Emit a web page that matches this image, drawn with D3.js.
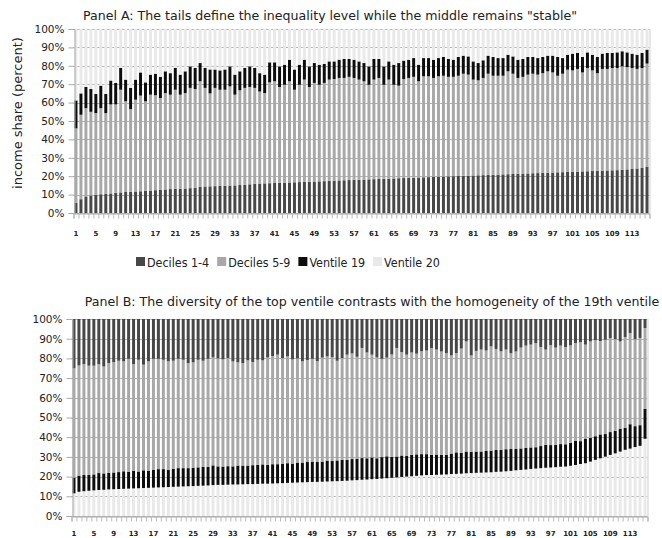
<!DOCTYPE html>
<html>
<head>
<meta charset="utf-8">
<script src="https://cdn.jsdelivr.net/npm/d3@7/dist/d3.min.js"></script>
<style>
body { margin: 0; background: #fff; }
text { font-family: "DejaVu Sans", sans-serif; fill: #222; }
</style>
</head>
<body>
<script>
// bar ids (countries sorted), one per bar
var groups = d3.range(1, 117);
var tickLabels = ["1","5","9","13","17","21","25","29","33","37","41","45","49","53","57",
  "61","65","69","73","77","81","85","89","93","97","101","105","109","113"];
var yTicks = [0,10,20,30,40,50,60,70,80,90,100];

// Panel A shares (percent), ventile 20 is what is left up to 100
var d14A = [5.5,7.5,9.0,9.5,10.0,10.2,10.4,10.6,11.0,11.2, 11.4,11.5,11.7,11.8,12.0,12.2,12.4,12.6,12.8,13.0,
  13.1,13.2,13.3,13.5,13.7,14.2,14.4,14.5,14.6,14.7, 14.8,14.9,15.0,15.2,15.4,15.6,15.8,16.0,16.1,16.2,
  16.3,16.4,16.5,16.6,16.7,16.8,16.9,17.0,17.1,17.2, 17.3,17.5,17.6,17.7,17.8,17.9,18.0,18.1,18.2,18.3,
  18.4,18.5,18.6,18.7,18.8,18.9,19.0,19.1,19.2,19.3, 19.4,19.5,19.6,19.7,19.8,19.9,20.0,20.1,20.2,20.3,
  20.4,20.5,20.6,20.7,20.8,20.9,21.0,21.1,21.2,21.3, 21.4,21.5,21.6,21.7,21.8,21.9,22.0,22.1,22.2,22.3,
  22.4,22.5,22.6,22.7,22.8,22.9,23.0,23.1,23.2,23.3, 23.5,23.7,23.9,24.2,24.5,25.2];
var d59A = [40.5,45.9,48.0,45.5,44.3,46.8,43.9,48.4,48.0,55.8, 49.3,45.0,49.9,52.0,48.7,52.1,51.6,49.9,52.4,51.3,
  53.9,51.1,51.9,54.5,53.7,57.4,53.6,50.5,53.4,52.3, 52.2,53.9,49.3,51.5,52.6,52.9,52.2,50.0,49.1,54.8,
  55.3,52.1,53.2,55.0,50.3,52.9,55.6,51.5,53.6,52.5, 53.4,55.0,55.2,55.7,55.6,56.1,55.4,54.4,53.4,51.4,
  54.1,54.9,51.1,53.8,50.9,50.3,53.8,54.3,54.8,52.3, 54.9,54.8,53.8,54.6,54.8,54.1,54.0,54.5,55.5,54.9,
  52.1,51.6,52.8,55.0,53.8,53.7,53.6,55.9,54.5,52.1, 52.6,53.7,54.1,53.5,54.2,55.1,54.4,52.5,53.5,55.6,
  55.1,55.8,53.8,56.1,54.7,53.1,55.3,55.2,55.6,55.5, 56.2,55.6,54.9,54.1,54.3,56.0];
var v19A = [15.2,11.6,11.5,12.4,10.4,12.2,10.4,13.0,11.7,11.8, 11.8,11.5,10.9,12.6,10.3,10.9,11.7,11.5,11.8,11.7,
  11.8,10.9,11.8,11.7,11.4,9.9,10.8,13.0,10.0,10.5, 11.0,10.9,10.9,10.3,10.8,11.2,10.8,10.0,10.0,10.9,
  10.3,11.2,10.9,11.7,11.0,10.9,10.8,11.2,10.8,10.9, 10.3,9.9,9.6,9.9,10.3,9.7,9.9,9.9,9.9,10.0,
  11.2,10.3,10.0,9.9,10.9,12.3,10.0,9.9,10.2,9.0, 9.9,9.9,9.9,9.9,10.2,9.7,9.3,10.2,9.8,9.9,
  9.9,9.4,9.6,9.8,10.2,9.6,9.6,9.0,9.4,9.9, 9.7,9.6,9.1,9.0,8.8,8.5,9.1,10.2,8.5,8.1,
  9.1,8.7,8.4,8.5,8.5,8.8,8.3,8.7,8.2,8.5, 8.2,8.0,7.8,7.7,8.2,7.6];

// Panel B shares (percent), deciles 5-9 is what is left up to 100
var v20B = [11.5,12.3,12.6,12.8,13.0,13.2,13.3,13.5,13.6,13.7, 13.8,13.9,14.0,14.1,14.2,14.3,14.4,14.5,14.6,14.7,
  14.8,14.9,15.0,15.1,15.2,15.3,15.4,15.5,15.7,15.8, 15.8,15.9,16.0,16.0,16.1,16.2,16.2,16.3,16.4,16.4,
  16.5,16.6,16.7,16.8,16.9,17.0,17.1,17.2,17.3,17.3, 17.4,17.5,17.6,17.7,17.8,17.9,18.1,18.2,18.4,18.5,
  18.7,18.8,19.0,19.2,19.4,19.6,19.8,20.0,20.2,20.4, 20.6,20.8,20.8,20.9,21.0,21.1,21.3,21.4,21.5,21.7,
  21.8,21.9,22.0,22.1,22.2,22.4,22.5,22.7,22.9,23.2, 23.4,23.6,23.9,24.1,24.3,24.5,24.6,24.8,25.0,25.1,
  25.5,25.9,26.4,26.8,27.6,28.5,29.3,30.1,31.0,31.8, 32.7,33.6,34.2,35.0,35.6,39.2];
var v19B = [8.0,8.2,8.2,8.0,8.1,8.6,8.3,8.4,8.5,8.6, 8.9,8.6,9.0,8.5,9.0,8.6,9.0,9.3,9.2,8.8,
  9.1,9.4,9.3,9.2,9.3,9.4,9.5,9.4,10.0,9.4, 9.3,9.4,9.2,9.6,9.5,9.4,9.6,9.7,9.8,9.6,
  9.8,9.7,9.9,10.0,9.7,10.1,10.0,10.2,10.3,10.1, 10.2,10.6,10.3,10.5,10.7,10.6,10.8,10.9,11.0,10.8,
  11.0,10.5,10.9,11.1,10.6,10.6,10.9,10.6,10.8,10.9, 10.8,10.6,10.2,10.3,10.1,10.0,10.4,10.9,10.5,11.0,
  10.8,10.8,10.7,10.9,11.0,11.2,11.1,11.2,11.1,11.0, 10.9,11.0,10.9,10.8,11.2,11.6,11.4,11.3,11.5,11.3,
  11.6,12.2,11.6,12.5,12.0,12.0,12.1,11.5,11.6,11.4, 11.5,11.2,12.4,10.6,10.5,15.2];
var d14B = [25.0,23.6,22.9,23.7,23.7,22.9,24.1,22.4,21.9,21.2, 21.5,20.2,22.9,20.7,23.2,21.5,20.2,20.2,20.7,21.5,
  21.2,20.2,20.7,22.4,22.0,20.7,21.2,20.2,19.5,20.0, 20.5,19.8,21.5,22.0,22.4,21.0,21.8,20.7,21.0,19.5,
  18.8,18.1,19.8,19.0,20.5,20.0,21.5,20.8,20.2,21.4, 19.6,19.0,19.4,21.2,19.8,18.1,17.5,19.2,14.7,17.0,
  18.1,19.5,20.2,19.6,18.0,14.7,16.8,18.1,17.0,17.6, 16.4,16.0,14.7,15.5,16.5,17.3,18.5,17.3,15.0,11.4,
  18.5,16.2,15.5,16.0,13.9,15.2,16.4,15.5,17.3,16.5, 14.5,13.5,13.0,12.2,14.2,15.5,13.2,14.5,13.5,14.2,
  13.4,12.2,11.8,13.0,11.4,10.8,11.2,10.5,9.7,10.2, 11.4,9.2,7.1,10.2,9.6,4.6];

var legendNames = ["Deciles 1-4", "Deciles 5-9", "Ventile 19", "Ventile 20"];
var legendKeys = ["d14", "d59", "v19", "v20"];
var colors = {d14: "#474747", d59: "#a8a8a8", v19: "#0d0d0d", v20: "#e9e9e9"};

var width = 662, height = 538;
var svg = d3.select("body").append("svg")
    .attr("width", width)
    .attr("height", height);

var rowsA = groups.map(function(id, i){
    return {id: id, d14: d14A[i], d59: d59A[i], v19: v19A[i], v20: 100 - d14A[i] - d59A[i] - v19A[i]};
});
var rowsB = groups.map(function(id, i){
    return {id: id, v20: v20B[i], v19: v19B[i], d14: d14B[i], d59: 100 - v20B[i] - v19B[i] - d14B[i]};
});

function drawPanel(cfg){
    var g = svg.append("g");
    var x = d3.scaleBand().domain(groups)
        .range([cfg.left, cfg.right])
        .paddingInner(0.4).paddingOuter(0.2);
    var y = d3.scaleLinear().domain([0, 100]).range([cfg.bottom, cfg.top]);

    //horizontal gridlines behind the bars
    g.selectAll(".grid").data(yTicks).enter().append("line")
        .attr("x1", cfg.left).attr("x2", cfg.right)
        .attr("y1", function(d){ return Math.round(y(d)) + 0.5; })
        .attr("y2", function(d){ return Math.round(y(d)) + 0.5; })
        .attr("stroke", "#b4b4b4");

    //stacked bars
    var layers = d3.stack().keys(cfg.keys)(cfg.data);
    g.selectAll(".layer").data(layers).enter().append("g")
        .attr("fill", function(d){ return colors[d.key]; })
        .selectAll("rect").data(function(d){ return d; }).enter().append("rect")
        .attr("x", function(d){ return x(d.data.id); })
        .attr("width", x.bandwidth())
        .attr("y", function(d){ return y(d[1]); })
        .attr("height", function(d){ return y(d[0]) - y(d[1]); });

    //right border of the plot area
    g.append("line")
        .attr("x1", cfg.right + 0.5).attr("x2", cfg.right + 0.5)
        .attr("y1", y(100)).attr("y2", y(0))
        .attr("stroke", "#cfcfcf");

    //left axis
    var yAxis = g.append("g")
        .attr("transform", "translate(" + Math.round(cfg.left) + ".5,0)")
        .call(d3.axisLeft(y).tickValues(yTicks).tickSize(6).tickPadding(4)
            .tickFormat(function(d){ return d + "%"; }));
    yAxis.select(".domain").attr("stroke", "#aaa");
    yAxis.selectAll(".tick line").attr("stroke", "#aaa");
    yAxis.selectAll(".tick text").attr("font-size", "10.5px")
        .style("font-family", "DejaVu Sans").attr("fill", "#1c1c30");

    //bottom axis: a tick between every pair of bars
    var xb = d3.scaleLinear().domain([0, groups.length]).range([cfg.left, cfg.right]);
    var xAxis = g.append("g")
        .attr("transform", "translate(0," + (Math.round(y(0)) + 0.5) + ")")
        .call(d3.axisBottom(xb).tickValues(d3.range(0, groups.length + 1)).tickSize(5).tickFormat(""));
    xAxis.select(".domain").attr("stroke", "#aaa");
    xAxis.selectAll(".tick line").attr("stroke", "#bbb");

    g.selectAll(".xlab").data(tickLabels).enter().append("text")
        .attr("x", function(d){ return x(+d) + x.bandwidth() / 2; })
        .attr("y", y(0) + cfg.labelOffset)
        .attr("text-anchor", "middle")
        .attr("font-size", "7px")
        .attr("font-weight", "bold")
        .text(function(d){ return d; });

    //panel title
    g.append("text")
        .attr("x", cfg.titleX).attr("y", cfg.titleY)
        .attr("text-anchor", "middle")
        .attr("font-size", cfg.titleSize)
        .attr("fill", "#1a1a33")
        .text(cfg.title);
}

drawPanel({
    left: 73.5, right: 649.5, top: 29, bottom: 213,
    keys: ["d14", "d59", "v19", "v20"], data: rowsA,
    labelOffset: 23, titleX: 330, titleY: 20, titleSize: "12.6px",
    title: "Panel A: The tails define the inequality level while the middle remains \"stable\""
});
drawPanel({
    left: 71.5, right: 647.5, top: 319, bottom: 516,
    keys: ["v20", "v19", "d59", "d14"], data: rowsB,
    labelOffset: 20, titleX: 372, titleY: 306, titleSize: "12.6px",
    title: "Panel B: The diversity of the top ventile contrasts with the homogeneity of the 19th ventile"
});

//y axis title of panel A
svg.append("text")
    .attr("transform", "translate(22,113) rotate(-90)")
    .attr("text-anchor", "middle")
    .attr("font-size", "13px")
    .text("income share (percent)");

//legend between the panels
var legend = svg.append("g").attr("transform", "translate(0,262)");
var lx = 136;
legendKeys.forEach(function(k, i){
    legend.append("rect")
        .attr("x", lx).attr("y", -5)
        .attr("width", 9).attr("height", 9)
        .attr("fill", colors[k]);
    var t = legend.append("text")
        .attr("x", lx + 11).attr("y", 5)
        .attr("font-size", "12.4px")
        .style("font-family", "'DejaVu Sans Condensed', 'DejaVu Sans', sans-serif")
        .text(legendNames[i]);
    lx += 11 + t.node().getComputedTextLength() + 8;
});
</script>
</body>
</html>
